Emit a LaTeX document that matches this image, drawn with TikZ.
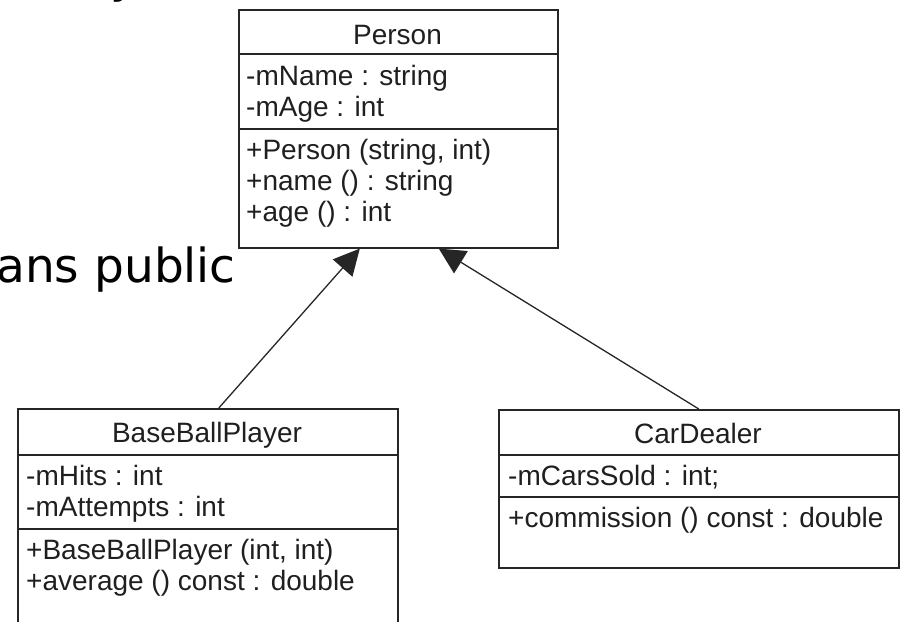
\documentclass[tikz,border=0pt]{standalone}
\usepackage{fontspec}
\setmainfont{Liberation Sans}
\newfontfamily\dejavu{DejaVu Sans}
\usetikzlibrary{arrows.meta}
\begin{document}
\begin{tikzpicture}[x=1pt,y=-1pt,
  umlbox/.style={draw=black!85, line width=1.6pt, rectangle, inner sep=0pt, anchor=north west},
  divider/.style={draw=black!85, line width=1.6pt},
  umltext/.style={font=\fontsize{28}{31}\selectfont, inner sep=0pt, text=black!88},
  entry/.style={umltext, anchor=base west},
  umltitle/.style={umltext, anchor=base},
  bigtext/.style={font=\dejavu\fontsize{47}{56}\selectfont, inner sep=0pt, text=black},
  inherit/.style={draw=black!85, line width=1.3pt, -{Triangle[length=26pt,width=26pt]}}]
\useasboundingbox (0,0) rectangle (901,621);
\clip (0,0) rectangle (901,621);

% partially visible slide text
\node[bigtext, anchor=base west] (topy) at (110,-7) {y};
\node[bigtext, anchor=base east] (note) at (236,282) {ans public};

% Person
\node[umlbox, minimum width=319pt, minimum height=238pt] (person) at (238,9) {};
\draw[divider] (238,54) -- (557,54);
\draw[divider] (238,129) -- (557,129);
\node[umltitle] (pT) at (397.5,44) {Person};
\node[entry] (pA1) at (246,85.7) {-mName : string};
\node[entry] (pA2) at (246,116.7) {-mAge : int};
\node[entry] (pM1) at (246,159) {+Person (string, int)};
\node[entry] (pM2) at (246,190) {+name () : string};
\node[entry] (pM3) at (246,221) {+age () : int};

% BaseBallPlayer (bottom runs off the picture)
\node[umlbox, minimum width=380pt, minimum height=240pt] (bbp) at (17,408) {};
\draw[divider] (17,455) -- (397,455);
\draw[divider] (17,529) -- (397,529);
\node[umltitle] (bT) at (207,442.7) {BaseBallPlayer};
\node[entry] (bA1) at (26,485.7) {-mHits : int};
\node[entry] (bA2) at (26,516.5) {-mAttempts : int};
\node[entry] (bM1) at (26,559) {+BaseBallPlayer (int, int)};
\node[entry] (bM2) at (26,590) {+average () const : double};

% CarDealer
\node[umlbox, minimum width=400pt, minimum height=158pt] (car) at (498,409) {};
\draw[divider] (498,455) -- (898,455);
\draw[divider] (498,497) -- (898,497);
\node[umltitle] (cT) at (698,443) {CarDealer};
\node[entry] (cA1) at (508,485.7) {-mCarsSold : int;};
\node[entry] (cM1) at (508,527.5) {+commission () const : double};

% generalisation arrows
\draw[inherit] ([xshift=11pt]bbp.north) -- ([xshift=-38.5pt]person.south);
\draw[inherit] (car.north) -- ([xshift=40.5pt]person.south);
\end{tikzpicture}
\end{document}
